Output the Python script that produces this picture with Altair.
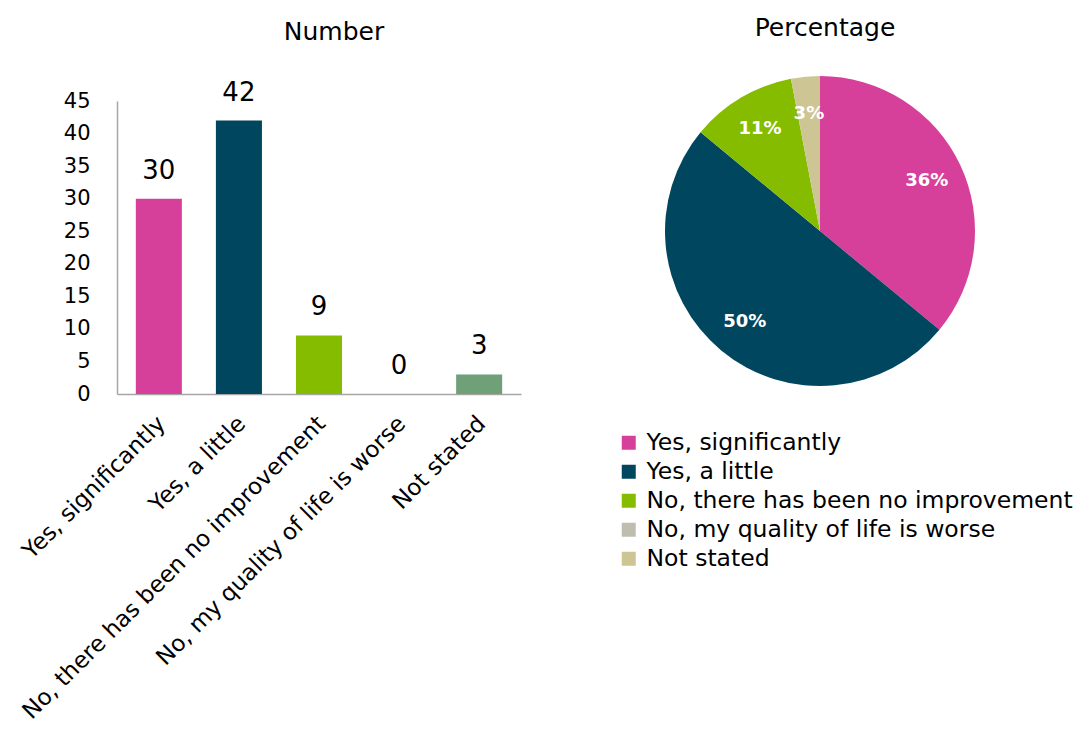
import altair as alt
import pandas as pd

categories = [
    "Yes, significantly",
    "Yes, a little",
    "No, there has been no improvement",
    "No, my quality of life is worse",
    "Not stated",
]
counts = [30, 42, 9, 0, 3]
percentages = [36, 50, 11, 0, 3]
bar_colors = ["#D6409A", "#00465E", "#86BC00", "#BFBDB0", "#6FA077"]
pie_colors = ["#D6409A", "#00465E", "#86BC00", "#BFBDB0", "#CDC593"]
y_ticks = [0, 5, 10, 15, 20, 25, 30, 35, 40, 45]

FONT = "DejaVu Sans"

df = pd.DataFrame({
    "category": categories,
    "count": counts,
    "pct": percentages,
    "idx": list(range(len(categories))),
})

x_enc = alt.X(
    "category:N",
    sort=categories,
    scale=alt.Scale(paddingInner=0.425, paddingOuter=0.235),
    axis=alt.Axis(
        title=None, labelAngle=-45, labelFontSize=23, labelFont=FONT, labelColor="black",
        ticks=False, domainColor="#A6A6A6", domainWidth=1.5, labelPadding=18, labelOffset=-5,
        labelLimit=0, labelOverlap=False,
    ),
)
y_enc = alt.Y(
    "count:Q",
    scale=alt.Scale(domain=[0, 45], nice=False),
    axis=alt.Axis(
        title=None, values=y_ticks, ticks=False, grid=False, labelFontSize=21, labelFont=FONT,
        labelColor="black", domainColor="#A6A6A6", domainWidth=1.5, labelPadding=27,
        labelOverlap=False,
    ),
)

base_bar = alt.Chart(df).encode(x=x_enc, y=y_enc)
bars = base_bar.mark_bar().encode(
    color=alt.Color("category:N", scale=alt.Scale(domain=categories, range=bar_colors), legend=None),
)
bar_labels = base_bar.mark_text(fontSize=26, font=FONT, baseline="alphabetic", dy=-20, color="black").encode(
    text=alt.Text("count:Q"),
)
bar_chart = alt.layer(bars, bar_labels).properties(
    width=404,
    height=293,
    title=alt.Title("Number", fontSize=25, font=FONT, fontWeight="normal", color="black", dx=15, offset=35),
)

pie_base = alt.Chart(df).transform_calculate(pct_label="datum.pct + '%'")
arcs = pie_base.mark_arc(outerRadius=155).encode(
    theta=alt.Theta("pct:Q", stack=True),
    order=alt.Order("idx:Q"),
    y=alt.value(130),
    color=alt.Color(
        "category:N",
        sort=categories,
        scale=alt.Scale(domain=categories, range=pie_colors),
        legend=alt.Legend(
            title=None, orient="none", legendX=-48, legendY=330, symbolType="square",
            symbolSize=196, symbolStrokeWidth=0, labelFontSize=23.5, labelFont=FONT,
            labelColor="black", labelLimit=0, rowPadding=4, labelOffset=6,
        ),
    ),
)
pie_labels = pie_base.mark_text(radius=118, font=FONT, fontWeight="bold", fontSize=18, color="white").encode(
    theta=alt.Theta("pct:Q", stack=True),
    order=alt.Order("idx:Q"),
    y=alt.value(130),
    text=alt.Text("pct_label:N"),
).transform_filter("datum.pct > 0")

pie_chart = alt.layer(arcs, pie_labels).properties(
    width=310,
    height=285,
    title=alt.Title("Percentage", fontSize=25, font=FONT, fontWeight="normal", color="black", dx=5, offset=35),
)

chart = (
    alt.hconcat(bar_chart, pie_chart, spacing=96)
    .resolve_scale(color="independent")
    .properties(padding={"left": 18, "top": 16, "right": 5, "bottom": 2}, background="white")
    .configure_view(stroke=None)
)

chart.save("out.html", embed_options={"renderer": "svg", "actions": False})
